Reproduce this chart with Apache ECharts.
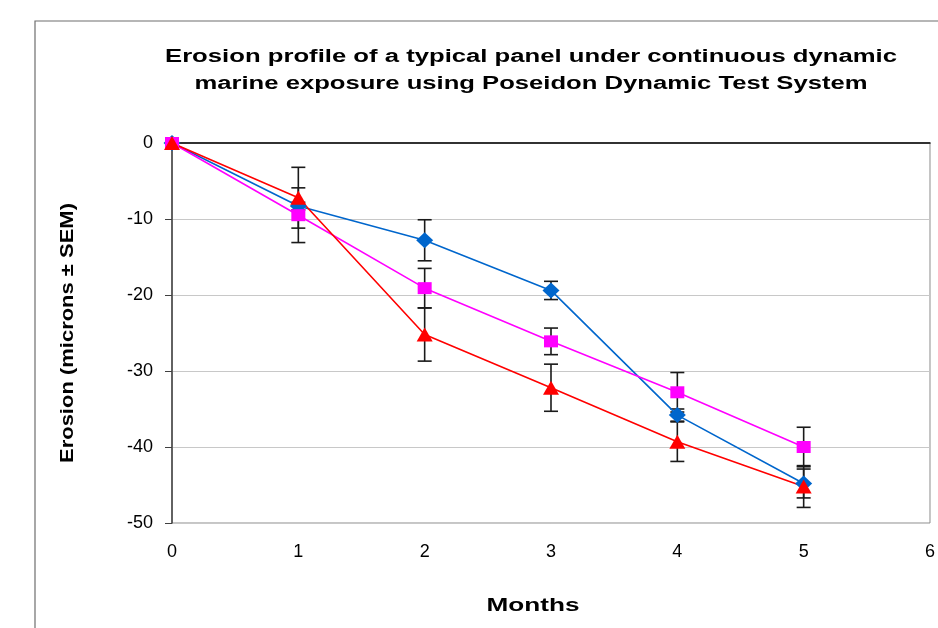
<!DOCTYPE html>
<html>
<head>
<meta charset="utf-8">
<script src="https://cdn.jsdelivr.net/npm/echarts@6/dist/echarts.min.js"></script>
<style>
html, body { margin: 0; padding: 0; background: #fff; }
#chart { width: 938px; height: 628px; }
</style>
</head>
<body>
<div id="chart"></div>
<script>
// months of exposure
var months = [0, 1, 2, 3, 4, 5];

// erosion (microns) and SEM for each panel series
var blueVals = [0, -8.3, -12.8, -19.4, -35.8, -44.8];
var blueSem  = [0.3, 0.5, 2.7, 1.2, 0.8, 1.9];
var pinkVals = [0, -9.5, -19.1, -26.1, -32.8, -40.0];
var pinkSem  = [0.3, 3.6, 2.6, 1.75, 2.6, 2.6];
var redVals  = [0, -7.2, -25.2, -32.2, -39.3, -45.2];
var redSem   = [0.3, 4.0, 3.5, 3.1, 2.6, 2.75];

var yTicks = [0, -10, -20, -30, -40, -50];

var titleLines = ['Erosion profile of a typical panel under continuous dynamic',
                  'marine exposure using Poseidon Dynamic Test System'];
var xName = 'Months';
var yName = 'Erosion (microns \u00b1 SEM)';

var boldFont = 'bold 18px "Liberation Sans"';
var measureCtx = document.createElement('canvas').getContext('2d');
// the original text is rendered wide; stretch to the same width
function stretch(text, target) {
    measureCtx.font = boldFont;
    return target / measureCtx.measureText(text).width;
}

function pairs(vals) {
    var out = [];
    for (var i = 0; i < months.length; i++) out.push([months[i], vals[i]]);
    return out;
}

function errData(vals, sem) {
    var out = [];
    for (var i = 0; i < months.length; i++) {
        out.push([months[i], vals[i] - sem[i], vals[i] + sem[i]]);
    }
    return out;
}

function renderErr(params, api) {
    var lo = api.coord([api.value(0), api.value(1)]);
    var hi = api.coord([api.value(0), api.value(2)]);
    var hw = 7;
    var st = { stroke: '#1a1a1a', lineWidth: 1.6 };
    return {
        type: 'group',
        children: [
            { type: 'line', shape: { x1: lo[0], y1: lo[1], x2: hi[0], y2: hi[1] }, style: st },
            { type: 'line', shape: { x1: lo[0] - hw, y1: lo[1], x2: lo[0] + hw, y2: lo[1] }, style: st },
            { type: 'line', shape: { x1: hi[0] - hw, y1: hi[1], x2: hi[0] + hw, y2: hi[1] }, style: st }
        ]
    };
}

function errSeries(vals, sem) {
    return {
        type: 'custom',
        xAxisIndex: 0,
        renderItem: renderErr,
        data: errData(vals, sem),
        z: 1,
        silent: true
    };
}

function lineSeries(name, vals, color, symbol, size) {
    return {
        name: name,
        type: 'line',
        xAxisIndex: 0,
        data: pairs(vals),
        symbol: symbol,
        symbolSize: size,
        showAllSymbol: true,
        lineStyle: { color: color, width: 1.6 },
        itemStyle: { color: color },
        z: 3,
        animation: false
    };
}

function label(text, x, y, target, rot) {
    return {
        type: 'text', x: x, y: y, rotation: rot || 0,
        scaleX: stretch(text, target),
        style: { text: text, font: boldFont, fill: '#000', align: 'center', verticalAlign: 'middle' }
    };
}

var chart = echarts.init(document.getElementById('chart'));
var option = {
    backgroundColor: '#ffffff',
    animation: false,
    grid: {
        left: 172, top: 143, right: 3, bottom: 105,
        show: true, borderColor: '#8c8c8c', borderWidth: 1, backgroundColor: '#ffffff'
    },
    xAxis: [{
        type: 'value',
        min: 0, max: 6, interval: 1,
        position: 'bottom',
        axisLine: { show: false },
        axisTick: { show: false },
        splitLine: { show: false },
        axisLabel: { color: '#000', fontFamily: 'Liberation Sans', fontSize: 18, margin: 20 }
    }, {
        type: 'value',
        min: 0, max: 6, interval: 1,
        position: 'top',
        axisLine: { show: true, onZero: false, lineStyle: { color: '#000', width: 1.5 } },
        axisTick: { show: false },
        axisLabel: { show: false },
        splitLine: { show: false }
    }],
    yAxis: {
        type: 'value',
        min: -50, max: 0, interval: 10,
        axisLine: { show: true, onZero: false, lineStyle: { color: '#404040', width: 1.5 } },
        axisTick: { show: true, length: 7, lineStyle: { color: '#404040' } },
        splitLine: { show: true, lineStyle: { color: '#c8c8c8', width: 1 } },
        axisLabel: {
            color: '#000', fontFamily: 'Liberation Sans', fontSize: 18, margin: 19,
            formatter: function (v) { return yTicks.indexOf(v) >= 0 ? String(v) : ''; }
        }
    },
    graphic: [
        { type: 'rect', shape: { x: 35, y: 21, width: 1000, height: 700 },
          style: { fill: 'none', stroke: '#6e6e6e', lineWidth: 1.2 }, z: -10 },
        label(titleLines[0], 531, 57, 732),
        label(titleLines[1], 531, 84, 673),
        label(xName, 533, 606, 93),
        label(yName, 68, 333, 260, Math.PI / 2)
    ],
    series: [
        errSeries(blueVals, blueSem),
        errSeries(pinkVals, pinkSem),
        errSeries(redVals, redSem),
        lineSeries('Series1', blueVals, '#0066cc', 'diamond', [17, 16]),
        lineSeries('Series2', pinkVals, '#ff00ff', 'rect', [14, 12]),
        lineSeries('Series3', redVals, '#ff0000', 'triangle', [16, 14])
    ]
};
chart.setOption(option);
</script>
</body>
</html>
